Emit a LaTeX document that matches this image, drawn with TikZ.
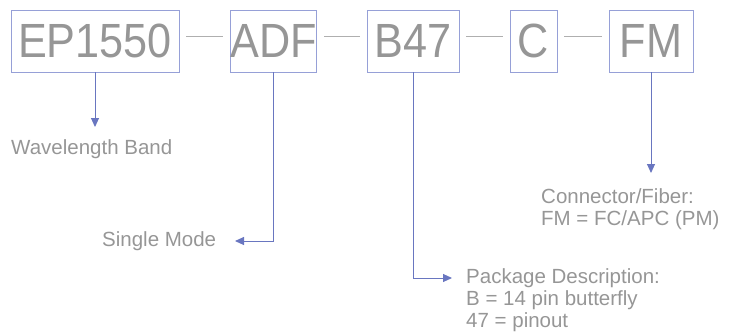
\documentclass[tikz,border=0pt]{standalone}
\usepackage{fontspec}
\setmainfont{Liberation Sans}
\newfontfamily\bigfont[FakeStretch=0.9]{Liberation Sans}
\usetikzlibrary{arrows.meta}
\definecolor{boxblue}{RGB}{150,160,215}
\definecolor{arrblue}{RGB}{105,118,192}
\definecolor{txtgray}{RGB}{150,150,150}
\definecolor{dashgray}{RGB}{175,175,175}
\tikzset{
  codebox/.style={draw=boxblue, line width=0.9pt, inner sep=0pt, minimum height=62pt,
    text=txtgray, font=\bigfont\fontsize{48}{52}\selectfont},
  sep/.style={draw=dashgray, line width=1pt, shorten <=7pt, shorten >=7pt},
  arr/.style={draw=arrblue, line width=1pt, -{Triangle[length=9pt,width=8pt]}},
  desc/.style={inner sep=0pt, text=txtgray, align=left, font=\fontsize{20.5}{22}\selectfont},
}
\begin{document}
\begin{tikzpicture}[x=1pt,y=-1pt]
\useasboundingbox (0,0) rectangle (733,332);
\node[codebox, minimum width=168pt] (ep) at (95,41) {EP1550};
\node[codebox, minimum width=85pt] (adf) at (273.5,41) {ADF};
\node[codebox, minimum width=92pt] (b47) at (413,41) {B47};
\node[codebox, minimum width=47pt] (c) at (533.5,41) {C};
\node[codebox, minimum width=84pt] (fm) at (651,41) {FM};
\draw[sep] ([yshift=5pt]ep.east) -- ([yshift=5pt]adf.west);
\draw[sep] ([yshift=5pt]adf.east) -- ([yshift=5pt]b47.west);
\draw[sep] ([yshift=5pt]b47.east) -- ([yshift=5pt]c.west);
\draw[sep] ([yshift=5pt]c.east) -- ([yshift=5pt]fm.west);
\node[desc, anchor=base west] (wl) at (11,154) {Wavelength Band};
\node[desc, anchor=base west] (sm) at (102,246) {Single Mode};
\node[desc, anchor=north west] (pkg) at (466,268.3) {Package Description:\\B = 14 pin butterfly\\47 = pinout};
\node[desc, anchor=north west] (con) at (541,188.3) {Connector/Fiber:\\FM = FC/APC (PM)};
\coordinate (wltip) at (95,127);
\coordinate (smtip) at (235,241);
\coordinate (pkgtip) at (452,278);
\coordinate (contip) at (651,173);
\draw[arr] (ep.south) -- (wltip);
\draw[arr] (adf.south) |- (smtip);
\draw[arr] (b47.south) |- (pkgtip);
\draw[arr] (fm.south) -- (contip);
\end{tikzpicture}
\end{document}
